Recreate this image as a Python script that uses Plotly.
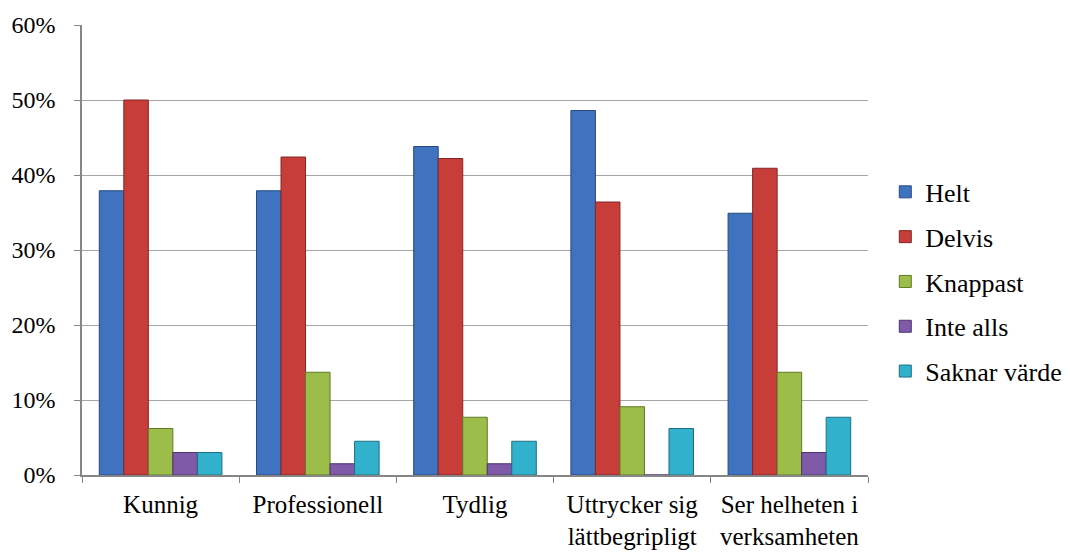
import plotly.graph_objects as go

categories = ["Kunnig", "Professionell", "Tydlig", "Uttrycker sig<br>lättbegripligt", "Ser helheten i<br>verksamheten"]
helt = [37.9, 37.9, 43.8, 48.6, 34.9]
delvis = [50.0, 42.4, 42.2, 36.4, 40.9]
knappast = [6.2, 13.7, 7.7, 9.1, 13.7]
inte_alls = [3.0, 1.5, 1.5, 0.0, 3.0]
saknar = [3.0, 4.5, 4.5, 6.2, 7.7]

series = [
    ("Helt", helt, "#3f73c0", "#27497d"),
    ("Delvis", delvis, "#c63d3a", "#842624"),
    ("Knappast", knappast, "#9dbd4a", "#5f7a26"),
    ("Inte alls", inte_alls, "#7e5aa8", "#4c3570"),
    ("Saknar värde", saknar, "#32b1cc", "#1e6f83"),
]

fig = go.Figure()
for i, (name, vals, col, edge) in enumerate(series):
    fig.add_trace(go.Bar(
        name=name, x=categories, y=vals,
        marker=dict(color=col, line=dict(color=edge, width=1)),
        legendgroup=f"g{i}",
    ))

font = "Liberation Serif"
fig.update_layout(
    width=1070, height=552,
    margin=dict(l=74, r=210, t=17, b=85, autoexpand=False),
    paper_bgcolor="white", plot_bgcolor="white",
    barmode="group", bargap=0.22, bargroupgap=0,
    font=dict(family=font, size=24, color="black"),
    legend=dict(x=1.022, y=0.429, xanchor="left", yanchor="middle",
                traceorder="grouped", tracegroupgap=8, itemwidth=30,
                font=dict(family=font, size=26, color="black")),
    xaxis=dict(showline=True, linecolor="#868686", linewidth=1.5, automargin=False,
               ticks="outside", tickson="boundaries", ticklen=6, tickcolor="#868686",
               ticklabelstandoff=6,
               tickfont=dict(family=font, size=25)),
    yaxis=dict(range=[0, 60], dtick=10, ticksuffix="%", automargin=False,
               showline=True, linecolor="#868686", linewidth=1.5,
               ticks="outside", ticklen=6, tickcolor="#868686",
               ticklabelstandoff=14,
               gridcolor="#a6a6a6", gridwidth=1.2, zeroline=False,
               tickfont=dict(family=font, size=24)),
)

fig.write_html("out.html")
